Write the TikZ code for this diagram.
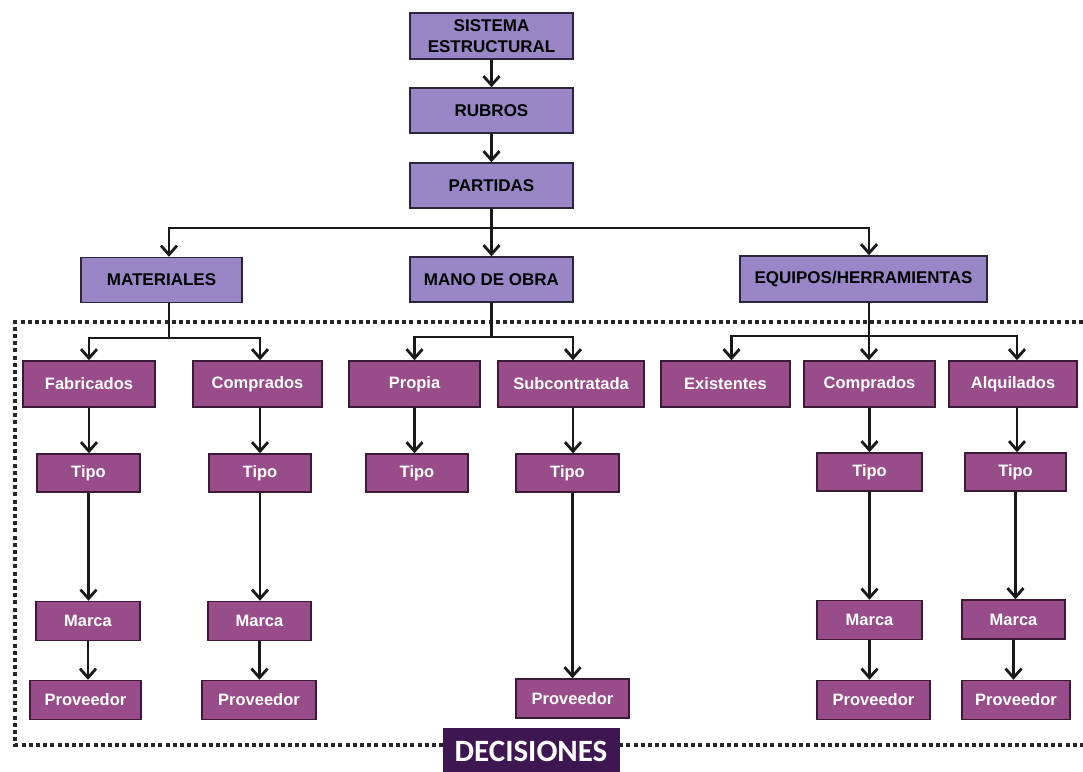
\documentclass[tikz,border=0pt]{standalone}
\usepackage{fontspec}
\setmainfont{Liberation Sans}
\newfontfamily\decfont{Carlito}
\usetikzlibrary{arrows.meta}

\definecolor{lavfill}{RGB}{152,134,198}
\definecolor{lavedge}{RGB}{45,36,58}
\definecolor{plumfill}{RGB}{152,76,138}
\definecolor{plumedge}{RGB}{58,26,52}
\definecolor{decfill}{RGB}{62,22,82}

\tikzset{
  topbox/.style={draw=lavedge, fill=lavfill, line width=1.5pt, inner sep=0pt,
    align=center, font=\bfseries\fontsize{17}{20.5}\selectfont, text=black},
  leafbox/.style={draw=plumedge, fill=plumfill, line width=1.5pt, inner sep=0pt,
    align=center, font=\bfseries\fontsize{16.5}{19}\selectfont, text=white},
  ln/.style={draw=black!90, line width=2.8pt},
  arr/.style={ln, -{Straight Barb[length=9pt,width=16pt,line width=2.8pt]}},
  frame/.style={draw=black!85, line width=3.8pt, dash pattern=on 4pt off 3.2pt},
  decbox/.style={fill=decfill, inner sep=0pt, text=white,
    font=\decfont\bfseries\fontsize{31}{33}\selectfont}
}

\begin{document}
\begin{tikzpicture}[x=1pt,y=-1pt]
\useasboundingbox[fill=white] (0,0) rectangle (1083,771);

% dotted frame around the decision area
\draw[frame] (1083,322) -- (15,322) -- (15,745) -- (1083,745);

% upper hierarchy
\node[topbox, minimum width=163pt, minimum height=46pt] (sis) at (491.5,36) {SISTEMA\\ESTRUCTURAL};
\node[topbox, minimum width=163pt, minimum height=45pt] (rub) at (491.5,110.5) {RUBROS};
\node[topbox, minimum width=163pt, minimum height=45pt] (par) at (491.5,185.5) {PARTIDAS};
\node[topbox, minimum width=161pt, minimum height=45pt] (mat) at (161.5,280) {MATERIALES};
\node[topbox, minimum width=163pt, minimum height=45pt] (mano) at (491.5,279.5) {MANO DE OBRA};
\node[topbox, minimum width=247pt, minimum height=46pt] (equ) at (863.5,279) {EQUIPOS/HERRAMIENTAS};

% second level
\node[leafbox, minimum width=132pt, minimum height=46pt] (fab) at (89,384) {Fabricados};
\node[leafbox, minimum width=129pt, minimum height=46pt] (com) at (257.5,384) {Comprados};
\node[leafbox, minimum width=131pt, minimum height=46pt] (prop) at (414.5,384) {Propia};
\node[leafbox, minimum width=146pt, minimum height=46pt] (subc) at (571,384) {Subcontratada};
\node[leafbox, minimum width=129pt, minimum height=46pt] (exi) at (725.5,384) {Existentes};
\node[leafbox, minimum width=131pt, minimum height=46pt] (eqc) at (869.5,384) {Comprados};
\node[leafbox, minimum width=128pt, minimum height=46pt] (alq) at (1013,384) {Alquilados};

% Tipo
\node[leafbox, minimum width=103pt, minimum height=38pt] (fabt) at (88.5,473) {Tipo};
\node[leafbox, minimum width=102pt, minimum height=38pt] (comt) at (260,473) {Tipo};
\node[leafbox, minimum width=102pt, minimum height=38pt] (propt) at (417,473) {Tipo};
\node[leafbox, minimum width=103pt, minimum height=38pt] (subt) at (567.5,473) {Tipo};
\node[leafbox, minimum width=105pt, minimum height=38pt] (eqct) at (869.5,472) {Tipo};
\node[leafbox, minimum width=101pt, minimum height=38pt] (alqt) at (1015.5,472) {Tipo};

% Marca
\node[leafbox, minimum width=104pt, minimum height=39pt] (fabm) at (88,621) {Marca};
\node[leafbox, minimum width=103pt, minimum height=39pt] (comm) at (259.5,621) {Marca};
\node[leafbox, minimum width=105pt, minimum height=39pt] (eqcm) at (869.5,620) {Marca};
\node[leafbox, minimum width=103pt, minimum height=39pt] (alqm) at (1013.5,619.5) {Marca};

% Proveedor
\node[leafbox, minimum width=111pt, minimum height=39pt] (fabp) at (85.5,700) {Proveedor};
\node[leafbox, minimum width=114pt, minimum height=39pt] (comp) at (259,700) {Proveedor};
\node[leafbox, minimum width=113pt, minimum height=39pt] (subp) at (572.5,698.5) {Proveedor};
\node[leafbox, minimum width=113pt, minimum height=39pt] (eqcp) at (873.5,700) {Proveedor};
\node[leafbox, minimum width=108pt, minimum height=39pt] (alqp) at (1016,700) {Proveedor};

% label of the decision area
\node[decbox, minimum width=177pt, minimum height=46pt] (dec) at (531,751) {DECISIONES};

% connectors of the upper hierarchy
\draw[arr] (sis.south) -- (rub.north);
\draw[arr] (rub.south) -- (par.north);
\coordinate (bp) at (491.5,228);
\draw[ln] (par.south) -- (bp);
\draw[arr] (bp) -| ([xshift=7.5pt]mat.north);
\draw[arr] (bp) -- (mano.north);
\draw[arr] (bp) -| ([xshift=5.5pt]equ.north);

% branches into the second level
\coordinate (bm) at (169,338);
\draw[ln] ([xshift=7.5pt]mat.south) -- (bm);
\draw[arr] (bm) -| (fab.north);
\draw[arr] (bm) -| ([xshift=2.5pt]com.north);

\coordinate (bo) at (491.5,337);
\draw[ln] (mano.south) -- (bo);
\draw[arr] (bo) -| (prop.north);
\draw[arr] (bo) -| ([xshift=2pt]subc.north);

\coordinate (be) at (869,336);
\draw[ln] ([xshift=5.5pt]equ.south) -- (be);
\draw[arr] (be) -| ([xshift=6pt]exi.north);
\draw[arr] (be) -- (be |- eqc.north);
\draw[arr] (be) -| ([xshift=4pt]alq.north);

% vertical chains
\draw[arr] (fab.south) -- (fab.south |- fabt.north);
\draw[arr] (fabt.south) -- (fabt.south |- fabm.north);
\draw[arr] (fabm.south) -- (fabm.south |- fabp.north);

\draw[arr] ([xshift=2.5pt]com.south) -- ([xshift=2.5pt]com.south |- comt.north);
\draw[arr] (comt.south) -- (comt.south |- comm.north);
\draw[arr] (comm.south) -- (comm.south |- comp.north);

\draw[arr] (prop.south) -- (prop.south |- propt.north);

\draw[arr] ([xshift=2pt]subc.south) -- ([xshift=2pt]subc.south |- subt.north);
\draw[arr] ([xshift=5pt]subt.south) -- ([xshift=5pt]subt.south |- subp.north);

\draw[arr] (eqc.south) -- (eqc.south |- eqct.north);
\draw[arr] (eqct.south) -- (eqct.south |- eqcm.north);
\draw[arr] (eqcm.south) -- (eqcm.south |- eqcp.north);

\draw[arr] ([xshift=4pt]alq.south) -- ([xshift=4pt]alq.south |- alqt.north);
\draw[arr] (alqt.south) -- (alqt.south |- alqm.north);
\draw[arr] (alqm.south) -- (alqm.south |- alqp.north);
\end{tikzpicture}
\end{document}
